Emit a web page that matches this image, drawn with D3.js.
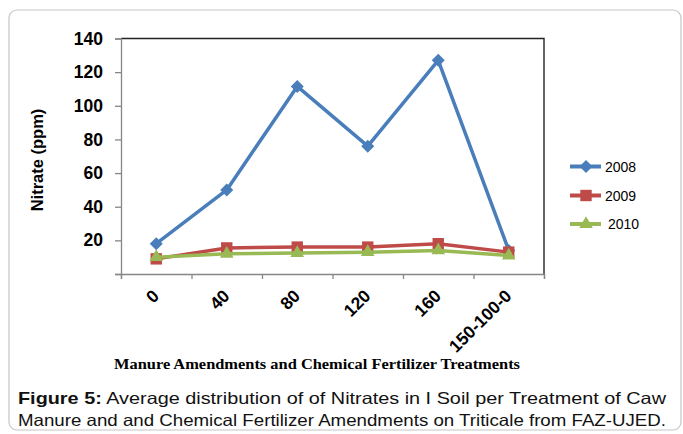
<!DOCTYPE html>
<html>
<head>
<meta charset="utf-8">
<script src="https://cdnjs.cloudflare.com/ajax/libs/d3/7.8.5/d3.min.js"></script>
<style>
  body { margin: 0; background: #fff; }
  svg { display: block; }
</style>
</head>
<body>
<div id="chart"></div>
<script>
// values
const categories = ["0", "40", "80", "120", "160", "150-100-0"];
const years = ["2008", "2009", "2010"];
const nitrate2008 = [18, 50, 111.5, 76, 127, 14];
const nitrate2009 = [9, 15.5, 16, 16, 18, 13];
const nitrate2010 = [10, 12, 12.5, 13, 14, 11];
const yTicks = [0, 20, 40, 60, 80, 100, 120, 140];

const seriesList = [
  {name: years[0], values: nitrate2008, color: "#4a7ebb", shape: "diamond"},
  {name: years[1], values: nitrate2009, color: "#be4b48", shape: "square"},
  {name: years[2], values: nitrate2010, color: "#98b954", shape: "triangle"}
];

const w = 683, h = 434;
const plot = {left: 121, right: 544, top: 38.5, bottom: 274};

const svg = d3.select("#chart").append("svg")
  .attr("width", w).attr("height", h);

// outer rounded frame
svg.append("rect")
  .attr("x", 9).attr("y", 10)
  .attr("width", 672).attr("height", 420)
  .attr("rx", 8)
  .attr("fill", "none")
  .attr("stroke", "#c6c6c6")
  .attr("stroke-width", 1.2);

const xScale = d3.scaleBand()
  .domain(categories)
  .range([plot.left, plot.right]);
const xEdges = d3.scaleLinear()
  .domain([0, categories.length])
  .range([plot.left, plot.right]);
const yScale = d3.scaleLinear()
  .domain([0, 140])
  .range([plot.bottom, plot.top]);
const cx = d => xScale(d) + xScale.bandwidth() / 2;

// plot area border (top / right)
svg.append("path")
  .attr("d", `M${plot.left},${plot.top}H${plot.right}V${plot.bottom}`)
  .attr("fill", "none")
  .attr("stroke", "#222")
  .attr("stroke-width", 1.4);

// y axis
const yAxis = d3.axisLeft(yScale)
  .tickValues(yTicks)
  .tickSize(6)
  .tickPadding(12)
  .tickFormat(d => d === 0 ? "" : d);
const gy = svg.append("g")
  .attr("transform", `translate(${plot.left},0)`)
  .call(yAxis);
gy.select(".domain").attr("stroke", "#868686").attr("stroke-width", 1.3);
gy.selectAll(".tick line").attr("stroke", "#868686").attr("stroke-width", 1.3);
gy.selectAll(".tick text")
  .attr("font-family", "'Liberation Sans', Arial, sans-serif")
  .attr("font-weight", "bold")
  .attr("font-size", 17.5)
  .attr("fill", "#000");

// x axis: tick marks at the category edges
const xTickAxis = d3.axisBottom(xEdges)
  .tickValues(d3.range(categories.length + 1))
  .tickSize(5)
  .tickFormat("");
const gx = svg.append("g")
  .attr("transform", `translate(0,${plot.bottom})`)
  .call(xTickAxis);
gx.select(".domain").attr("stroke", "#868686").attr("stroke-width", 1.3);
gx.selectAll(".tick line").attr("stroke", "#868686").attr("stroke-width", 1.3);

// rotated category labels
svg.append("g").selectAll("text")
  .data(categories)
  .join("text")
  .attr("transform", d => `translate(${cx(d) + 4},${plot.bottom + 23}) rotate(-45)`)
  .attr("text-anchor", "end")
  .attr("font-family", "'Liberation Sans', Arial, sans-serif")
  .attr("font-weight", "bold")
  .attr("font-size", 17.5)
  .text(d => d);

// axis titles
svg.append("text")
  .attr("transform", `translate(43,160) rotate(-90)`)
  .attr("text-anchor", "middle")
  .attr("font-family", "'Liberation Sans', Arial, sans-serif")
  .attr("font-weight", "bold")
  .attr("font-size", 16.5)
  .text("Nitrate (ppm)");

svg.append("text")
  .attr("x", 317).attr("y", 369)
  .attr("text-anchor", "middle")
  .attr("font-family", "'Liberation Serif', 'Times New Roman', serif")
  .attr("font-weight", "bold")
  .attr("font-size", 15)
  .attr("textLength", 406)
  .attr("lengthAdjust", "spacingAndGlyphs")
  .text("Manure Amendments and Chemical Fertilizer Treatments");

// marker shapes
function markerPath(shape) {
  if (shape === "diamond") return "M0,-6.5L6.5,0L0,6.5L-6.5,0Z";
  if (shape === "square") return d3.symbol(d3.symbolSquare, 130)();
  return d3.symbol(d3.symbolTriangle, 80)();
}

const line = d3.line()
  .x((d, i) => cx(categories[i]))
  .y(d => yScale(d));

seriesList.forEach(s => {
  const g = svg.append("g");
  g.append("path")
    .datum(s.values)
    .attr("d", line)
    .attr("fill", "none")
    .attr("stroke", s.color)
    .attr("stroke-width", 3.5)
    .attr("stroke-linejoin", "round");
  g.selectAll("path.mk")
    .data(s.values)
    .join("path")
    .attr("class", "mk")
    .attr("d", markerPath(s.shape))
    .attr("transform", (d, i) => `translate(${cx(categories[i])},${yScale(d)})`)
    .attr("fill", s.color);
});

// legend
const legendY = [166.5, 195.5, 224];
const legendTextX = [605, 605, 608];
seriesList.forEach((s, i) => {
  const g = svg.append("g").attr("transform", `translate(0,${legendY[i]})`);
  g.append("line")
    .attr("x1", 570).attr("x2", 601)
    .attr("stroke", s.color).attr("stroke-width", 4);
  g.append("path")
    .attr("d", markerPath(s.shape))
    .attr("transform", "translate(586,0)")
    .attr("fill", s.color);
  g.append("text")
    .attr("x", legendTextX[i]).attr("y", 5)
    .attr("font-family", "'Liberation Sans', Arial, sans-serif")
    .attr("font-size", 14)
    .text(s.name);
});

// caption
const cap = svg.append("g")
  .attr("font-family", "'Liberation Sans', Arial, sans-serif")
  .attr("font-size", 16.5)
  .attr("fill", "#111");
const line1 = cap.append("text")
  .attr("x", 18).attr("y", 404)
  .attr("textLength", 648)
  .attr("lengthAdjust", "spacingAndGlyphs");
line1.append("tspan").attr("font-weight", "bold").text("Figure  5:");
line1.append("tspan").text("  Average distribution of of Nitrates in I Soil per  Treatment of Caw");
cap.append("text")
  .attr("x", 18).attr("y", 426)
  .attr("textLength", 648)
  .attr("lengthAdjust", "spacingAndGlyphs")
  .text("Manure and  and Chemical Fertilizer Amendments on Triticale from FAZ-UJED.");
</script>
</body>
</html>
